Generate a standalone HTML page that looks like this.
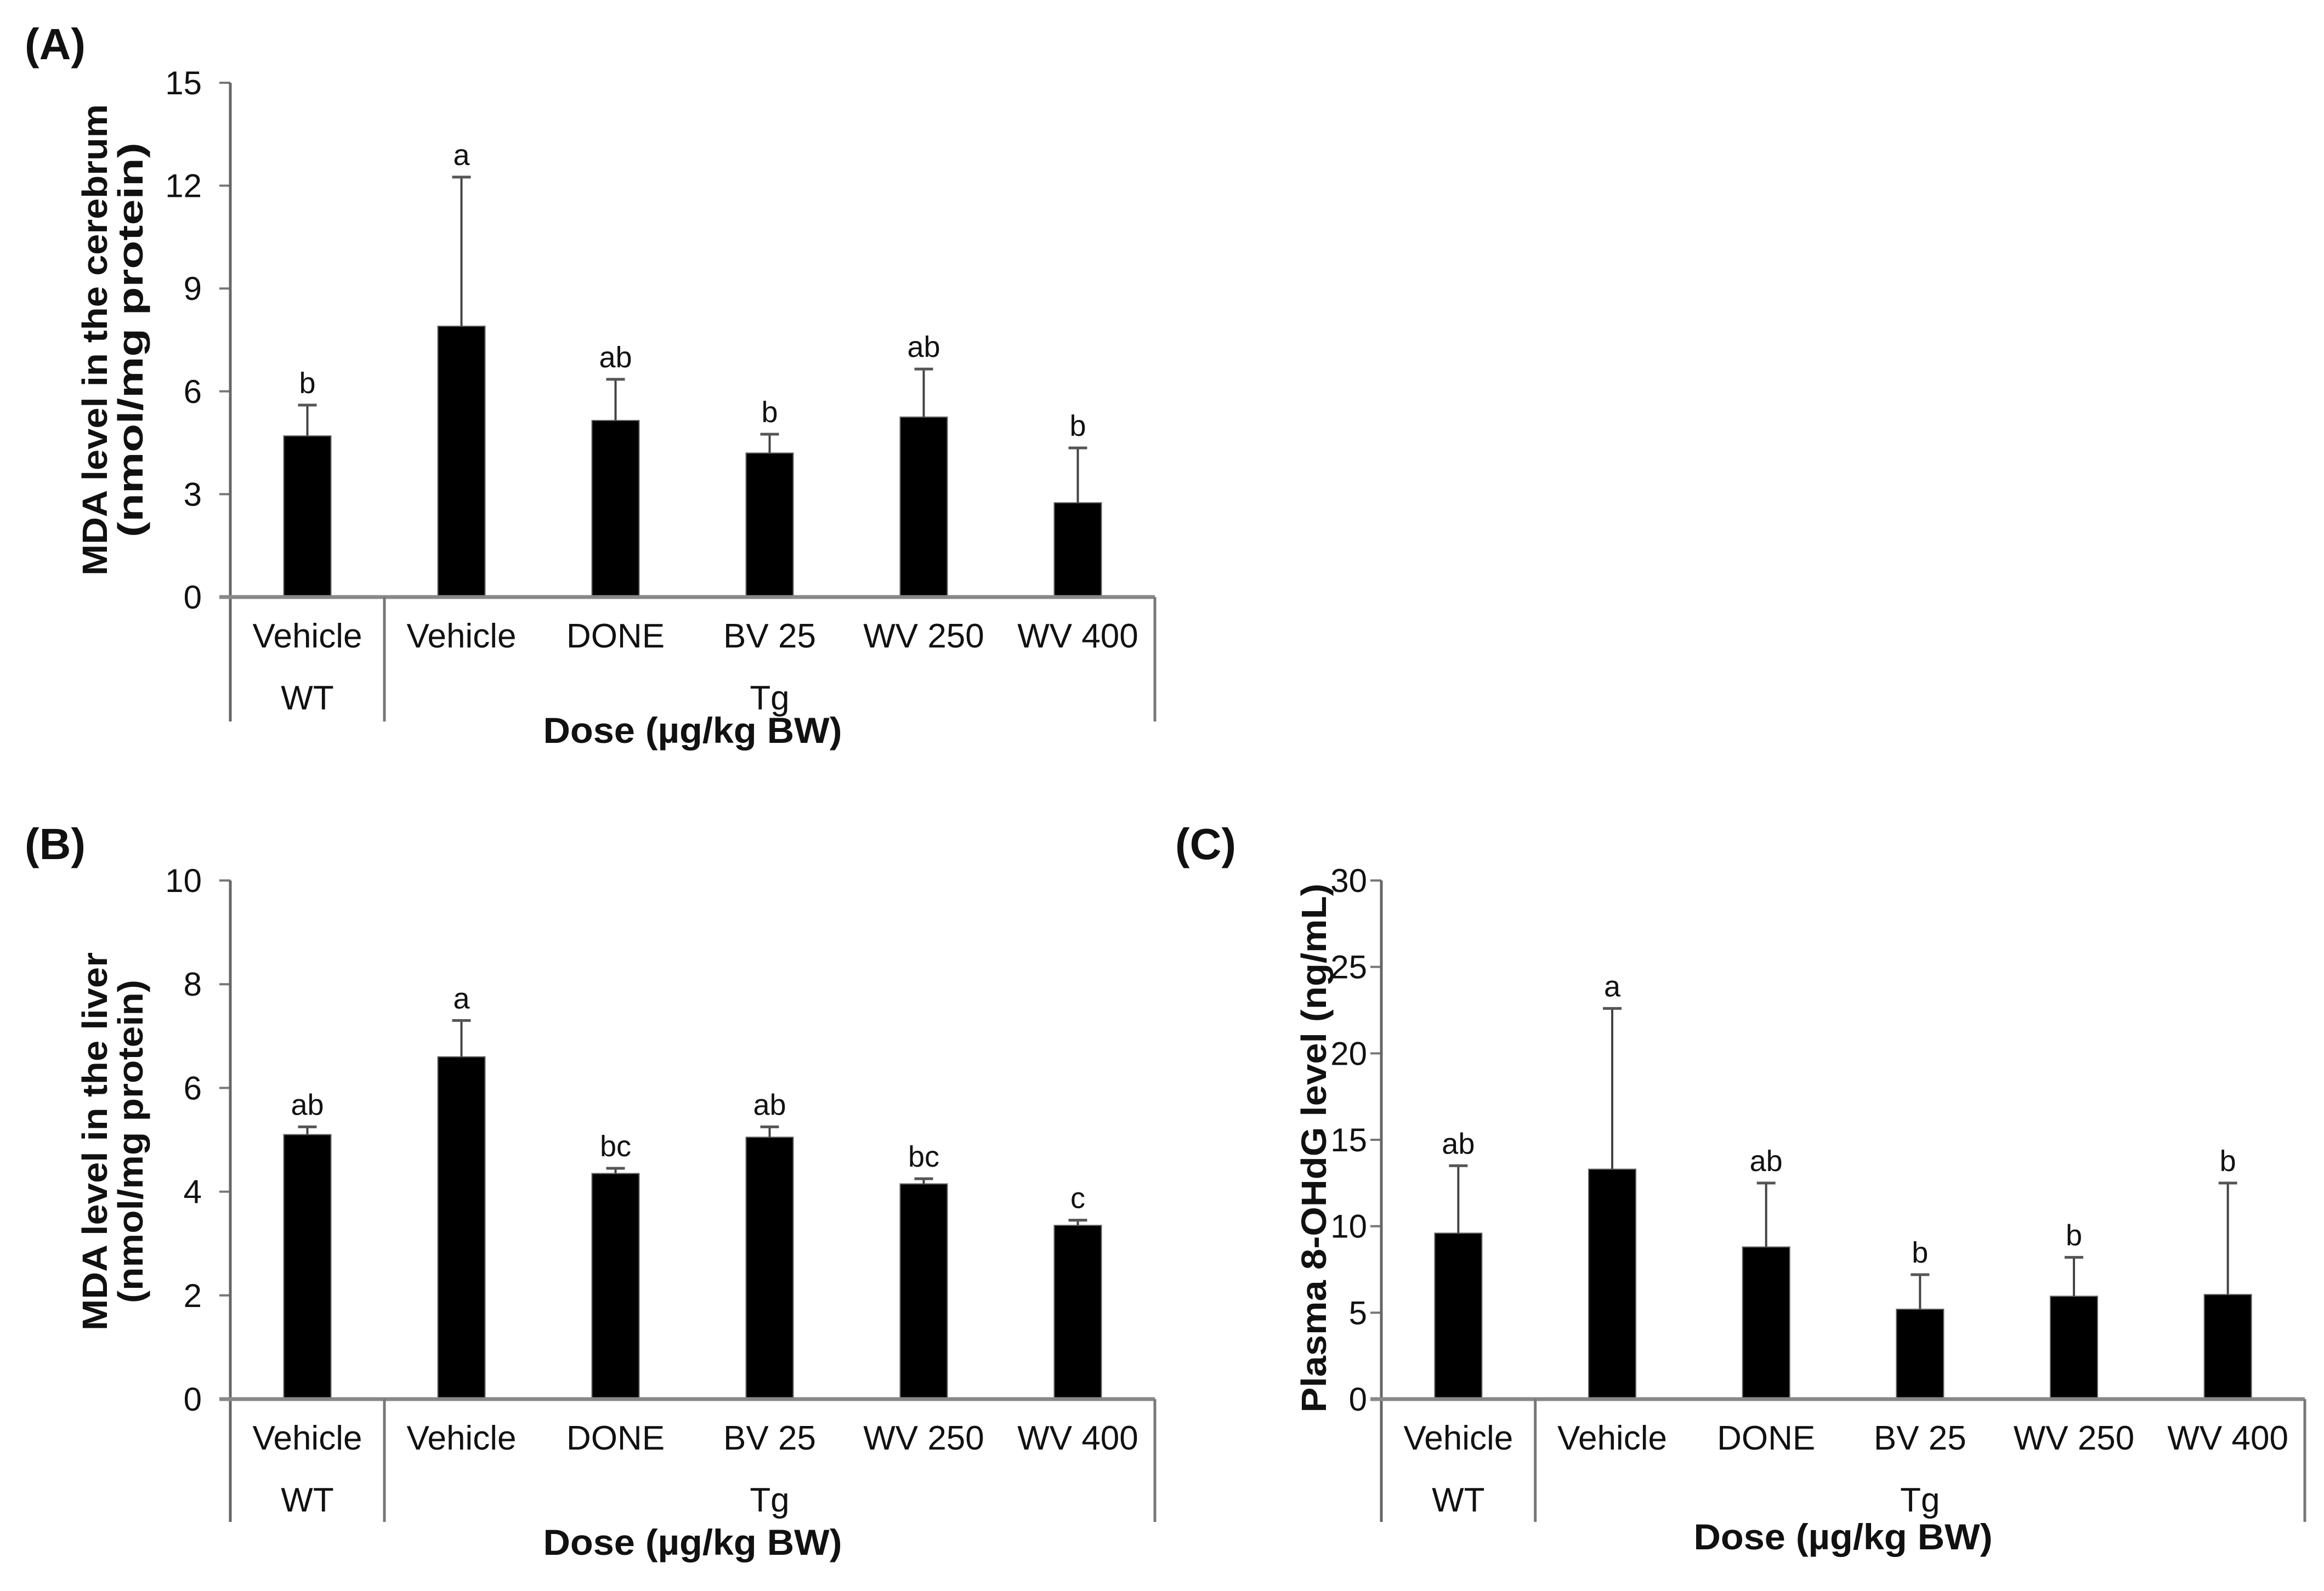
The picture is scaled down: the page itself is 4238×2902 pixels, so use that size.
<!DOCTYPE html>
<html><head><meta charset="utf-8">
<style>
html,body{margin:0;padding:0;background:#fff;}
svg{display:block;}
text{font-family:"Liberation Sans",Arial,sans-serif;fill:#111;}
.b{font-weight:bold;}
</style></head>
<body>
<svg id="fig" width="4238" height="2902" viewBox="0 0 4238 2902" xmlns="http://www.w3.org/2000/svg">
<rect width="4238" height="2902" fill="#fff"/>
</svg>
<script>
const categories = ["Vehicle","Vehicle","DONE","BV 25","WV 250","WV 400"];
const groupLabels = ["WT","Tg"];
const aMeans = [4.7, 7.9, 5.15, 4.2, 5.25, 2.75];
const aTops  = [5.6, 12.25, 6.35, 4.75, 6.65, 4.35];
const aLetters = ["b","a","ab","b","ab","b"];
const aTicks = [0,3,6,9,12,15];
const bMeans = [5.1, 6.6, 4.35, 5.05, 4.15, 3.35];
const bTops  = [5.25, 7.3, 4.45, 5.25, 4.25, 3.45];
const bLetters = ["ab","a","bc","ab","bc","c"];
const bTicks = [0,2,4,6,8,10];
const cMeans = [9.6, 13.3, 8.8, 5.2, 5.95, 6.05];
const cTops  = [13.5, 22.6, 12.5, 7.2, 8.2, 12.5];
const cLetters = ["ab","a","ab","b","b","b"];
const cTicks = [0,5,10,15,20,25,30];

const NS="http://www.w3.org/2000/svg";
const svg=document.getElementById('fig');
function mk(tag,attrs,parent){const e=document.createElementNS(NS,tag);for(const k in attrs)e.setAttribute(k,attrs[k]);(parent||svg).appendChild(e);return e;}
function txt(s,attrs,parent){const e=mk('text',attrs,parent);e.textContent=s;return e;}

function panel(cfg){
  const g=mk('g',{});
  
  
  const x0=cfg.x0,x1=cfg.x1,y0=cfg.y0,yT=cfg.yT,max=cfg.ticks[cfg.ticks.length-1];
  const Y=v=>y0-(v/max)*(y0-yT);
  const band=(x1-x0)/categories.length;
  const X=i=>x0+band*(i+0.5);
  const bw=86;
  const pl=txt(cfg.label,{x:cfg.lx,y:cfg.ly,'font-size':80,class:'b'},g);
  
  
  cfg.ticks.forEach(t=>{
    const tl=mk('line',{x1:x0-20,x2:x0,y1:Y(t),y2:Y(t),stroke:'#777','stroke-width':4},g);
    
    
    const tt=txt(String(t),{x:x0-cfg.tOff,y:Y(t)+21,'font-size':60,'text-anchor':'end'},g);
    
    
  });
  cfg.means.forEach((m,i)=>{
    const r=mk('rect',{x:X(i)-bw/2,y:Y(m),width:bw,height:y0-Y(m),fill:'#000',stroke:'#666','stroke-width':2},g);
    
    
    const top=Y(cfg.tops[i]);
    const el=mk('line',{x1:X(i),x2:X(i),y1:Y(m),y2:top,stroke:'#444','stroke-width':4},g);
    
    
    const cap=mk('line',{x1:X(i)-17,x2:X(i)+17,y1:top,y2:top,stroke:'#555','stroke-width':5},g);
    
    
    const lt=txt(cfg.letters[i],{x:X(i),y:top-22,'font-size':54,'text-anchor':'middle'},g);
    
    
    const cl=txt(categories[i],{x:X(i),y:y0+92,'font-size':62,'text-anchor':'middle'},g);
    
    
  });
  const ya=mk('line',{x1:x0,x2:x0,y1:yT,y2:cfg.gb,stroke:'#666','stroke-width':5},g);
  
  
  const xa=mk('line',{x1:x0-20,x2:x1,y1:y0,y2:y0,stroke:'#888','stroke-width':7},g);
  
  
  [x0+band, x1].forEach(xx=>{
    const d=mk('line',{x1:xx,x2:xx,y1:y0,y2:cfg.gb,stroke:'#777','stroke-width':5},g);
    
    
  });
  const g1=txt(groupLabels[0],{x:X(0),y:y0+205,'font-size':62,'text-anchor':'middle'},g);
  
  
  const g2=txt(groupLabels[1],{x:(x0+band+x1)/2,y:y0+205,'font-size':62,'text-anchor':'middle'},g);
  
  
  const xt=txt('Dose (µg/kg BW)',{x:(x0+x1)/2,y:cfg.doseY,'font-size':66,'text-anchor':'middle',class:'b',textLength:545,lengthAdjust:'spacingAndGlyphs'},g);
  
  
  cfg.ytitle.forEach(t=>{
    const e=txt(t.s,{x:0,y:0,'font-size':64,'text-anchor':'middle',class:'b',textLength:t.len,lengthAdjust:'spacingAndGlyphs',transform:`translate(${t.x},${cfg.ytc}) rotate(-90)`},g);
    
    
  });
}

panel({id:'a',label:'(A)',lx:45,ly:108,x0:420,x1:2106,y0:1089,yT:151,gb:1316,doseY:1355,ytc:620,tOff:52,
  ticks:aTicks,means:aMeans,tops:aTops,letters:aLetters,
  ytitle:[{s:'MDA level in the cerebrum',x:195,len:860},{s:'(nmol/mg protein)',x:260,len:720}]});
panel({id:'b',label:'(B)',lx:45,ly:1567,x0:420,x1:2106,y0:2552,yT:1606,gb:2776,doseY:2836,ytc:2082,tOff:52,
  ticks:bTicks,means:bMeans,tops:bTops,letters:bLetters,
  ytitle:[{s:'MDA level in the liver',x:195,len:690},{s:'(nmol/mg protein)',x:260,len:590}]});
panel({id:'c',label:'(C)',lx:2143,ly:1567,x0:2519,x1:4203,y0:2552,yT:1606,gb:2776,doseY:2826,ytc:2094,tOff:26,
  ticks:cTicks,means:cMeans,tops:cTops,letters:cLetters,
  ytitle:[{s:'Plasma 8-OHdG level (ng/mL)',x:2418,len:965}]});
</script>
</body></html>
